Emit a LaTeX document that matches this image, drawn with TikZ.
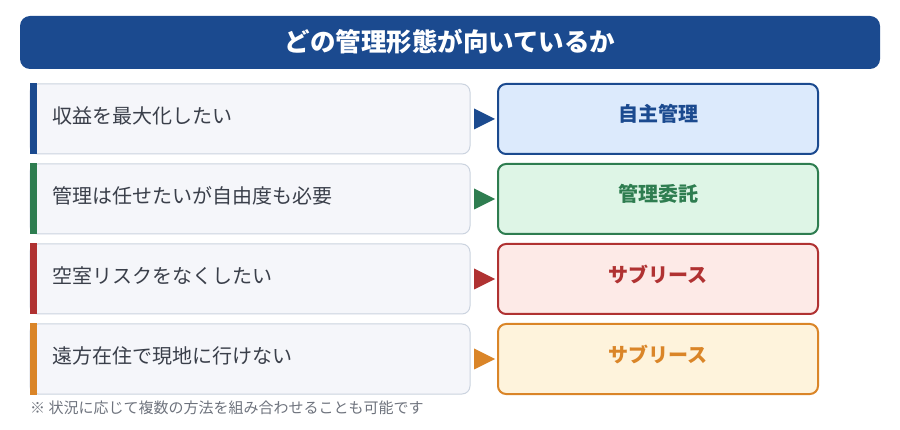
\documentclass[tikz,border=0pt]{standalone}
\usepackage{fontspec}
\setmainfont{Noto Sans CJK JP}
\usetikzlibrary{calc}
\definecolor{cblue}{RGB}{27,74,143}
\definecolor{cgreen}{RGB}{46,125,80}
\definecolor{cred}{RGB}{176,50,50}
\definecolor{corange}{RGB}{218,133,40}
\definecolor{fblue}{RGB}{220,234,252}
\definecolor{fgreen}{RGB}{222,245,230}
\definecolor{fred}{RGB}{253,234,231}
\definecolor{forange}{RGB}{254,243,220}
\definecolor{lfill}{RGB}{245,246,250}
\definecolor{lborder}{RGB}{203,211,223}
\definecolor{ltext}{RGB}{58,63,74}
\definecolor{note}{RGB}{110,115,125}
\tikzset{
  titlebar/.style={fill=cblue, rounded corners=10pt, minimum width=860pt, minimum height=53pt, inner sep=0pt, outer sep=0pt},
  leftbox/.style={fill=lfill, draw=lborder, line width=1pt, rounded corners=8pt, minimum width=440pt, minimum height=70pt, inner sep=0pt, outer sep=0pt},
  accent/.style={fill=#1, minimum width=7pt, minimum height=71pt, inner sep=0pt, outer sep=0pt},
  rightbox/.style={fill=f#1, draw=c#1, line width=2pt, rounded corners=8pt, minimum width=320pt, minimum height=70pt, inner sep=0pt, outer sep=0pt},
  lefttext/.style={anchor=west, inner sep=0pt, text=ltext, font=\fontsize{20}{24}\selectfont},
  righttext/.style={inner sep=0pt, text=c#1, font=\fontsize{20}{24}\selectfont\bfseries},
  tri/.style={fill=#1},
}
\begin{document}
\begin{tikzpicture}[x=1pt,y=-1pt]
\useasboundingbox (0,0) rectangle (900,430);
\node[titlebar] (T) at (450,42.5) {};
\node[text=white, font=\fontsize{25.5}{30}\selectfont\bfseries, inner sep=0pt] (TT) at (450,41.5) {どの管理形態が向いているか};

\foreach \i/\c/\lt/\rt in {0/blue/収益を最大化したい/自主管理, 1/green/管理は任せたいが自由度も必要/管理委託, 2/red/空室リスクをなくしたい/サブリース, 3/orange/遠方在住で現地に行けない/サブリース}{
  \pgfmathsetmacro{\yc}{119+80*\i}
  \node[leftbox] (L\i) at (250,\yc) {};
  \node[accent=c\c] (A\i) at (33.5,\yc) {};
  \node[lefttext] (LT\i) at (52,\yc-3) {\lt};
  \node[rightbox=\c] (R\i) at (658,\yc) {};
  \node[righttext=\c] (RT\i) at (658,\yc-5) {\rt};
  \fill[tri=c\c] ($(L\i.east)+(4,-10.5)$) -- ($(R\i.west)+(-3,0)$) -- ($(L\i.east)+(4,10.5)$) -- cycle;
}

\node[anchor=west, inner sep=0pt, text=note, font=\fontsize{15}{18}\selectfont] (N) at (30,408) {※ 状況に応じて複数の方法を組み合わせることも可能です};
\end{tikzpicture}
\end{document}
